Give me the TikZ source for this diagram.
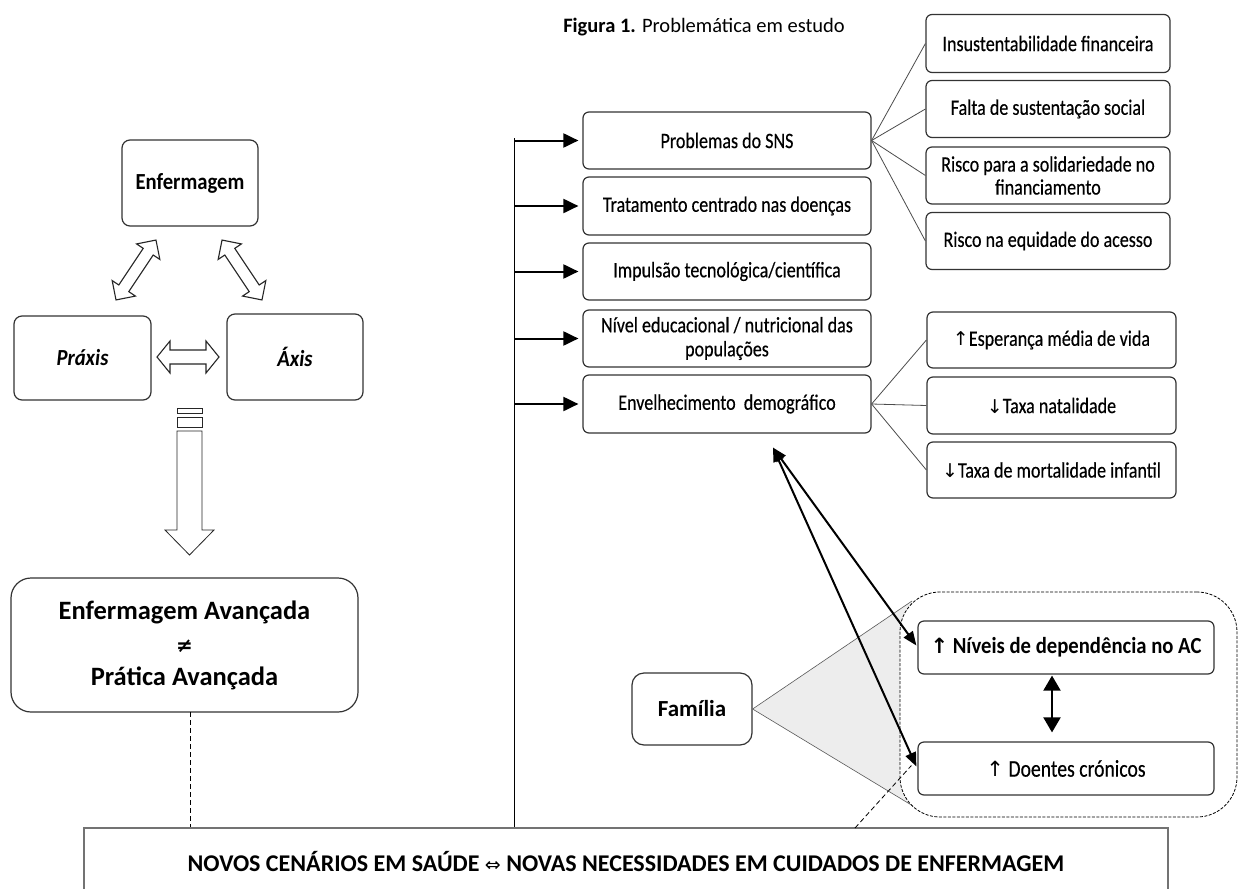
\documentclass[tikz,border=0pt]{standalone}
\usepackage{fontspec}
\setmainfont{Carlito}
\newfontfamily\cf[FakeStretch=0.9]{Carlito}
\newfontfamily\cn[FakeStretch=0.82,FakeBold=0.4]{Carlito}
\newfontfamily\symf{DejaVu Sans}
\usetikzlibrary{arrows.meta,calc}
\begin{document}
\begin{tikzpicture}[x=1pt,y=-1pt,
  box/.style={draw=black!80, line width=1.2pt, rounded corners=6pt, fill=white, inner sep=0pt, align=center},
  btxt/.style={font=\cn\fontsize{22}{24}\selectfont},
  bigb/.style={font=\cf\bfseries\fontsize{23}{26}\selectfont},
  outl/.style={draw=black!85, line width=1.1pt, fill=white, line join=miter},
  thin/.style={draw=black!70, line width=0.8pt},
  feed/.style={line width=2pt, -{Triangle[length=15pt,width=14pt]}},
  dbl/.style={line width=2pt, {Triangle[length=14pt,width=11pt]}-{Triangle[length=14pt,width=11pt]}},
  vdbl/.style={line width=2pt, {Triangle[length=15pt,width=17pt]}-{Triangle[length=15pt,width=17pt]}}
]
\useasboundingbox (0,0) rectangle (1240,889);
\fill[white] (0,0) rectangle (1240,889);

% title
\node[font=\fontsize{20.5}{24}\selectfont, inner sep=0pt] (title) at (704,27) {\textbf{Figura 1.} Problemática em estudo};

% ---- left part
\node[box, rounded corners=8pt, minimum width=136pt, minimum height=86pt, bigb] (enf) at (190,183) {Enfermagem};
\node[box, rounded corners=8pt, minimum width=137pt, minimum height=84pt, font=\cf\bfseries\itshape\fontsize{23}{26}\selectfont] (praxis) at (82.5,358) {Práxis};
\node[box, rounded corners=8pt, minimum width=136pt, minimum height=86pt, font=\cf\bfseries\itshape\fontsize{23}{26}\selectfont] (axis) at (295,357) {Áxis};

% outlined double arrows
\begin{scope}[shift={(136,270)}, rotate=56.3]
  \draw[outl] (-36,0) -- (-22,-14) -- (-22,-6) -- (22,-6) -- (22,-14) -- (36,0) -- (22,14) -- (22,6) -- (-22,6) -- (-22,14) -- cycle;
\end{scope}
\begin{scope}[shift={(242,270)}, rotate=-56.3]
  \draw[outl] (-36,0) -- (-22,-14) -- (-22,-6) -- (22,-6) -- (22,-14) -- (36,0) -- (22,14) -- (22,6) -- (-22,6) -- (-22,14) -- cycle;
\end{scope}
\begin{scope}[shift={(188,357)}]
  \draw[outl] (-31,0) -- (-18,-16) -- (-18,-7) -- (18,-7) -- (18,-16) -- (31,0) -- (18,16) -- (18,7) -- (-18,7) -- (-18,16) -- cycle;
\end{scope}

% striped down arrow
\draw[black!85, line width=0.8pt, fill=white] (177,408) rectangle (202,413);
\draw[black!85, line width=0.8pt, fill=white] (177,417) rectangle (202,427);
\draw[black!85, line width=0.8pt, fill=white, line join=miter] (177,431) -- (202,431) -- (202,530) -- (214,530) -- (189.5,555) -- (165,530) -- (177,530) -- cycle;

\node[box, rounded corners=20pt, minimum width=347pt, minimum height=134pt, font=\bfseries\fontsize{26.5}{33}\selectfont] (enfav) at (184.5,645) {Enfermagem Avançada\\{\symf\fontsize{20}{20}\selectfont ≠}\\Prática Avançada};

% bottom box
\node[draw=black!55, line width=1.3pt, minimum width=1084pt, minimum height=120pt, inner sep=0pt] (bot) at (626,888) {};
\node[font=\bfseries\fontsize{24}{28}\selectfont, inner sep=0pt] (bottxt) at (626,861) {NOVOS CENÁRIOS EM SAÚDE {\symf\mdseries\fontsize{19}{20}\selectfont ⇔} NOVAS NECESSIDADES EM CUIDADOS DE ENFERMAGEM};

\coordinate (dtop) at (190,712);
\draw[dashed, line width=0.8pt, dash pattern=on 5pt off 3pt] (dtop) -- (dtop |- bot.north);

% ---- middle column
\node[box, minimum width=288pt, minimum height=57pt, btxt] (prob) at (727,140.5) {Problemas do SNS};
\node[box, minimum width=288pt, minimum height=58pt, btxt] (trat) at (727,206) {Tratamento centrado nas doenças};
\node[box, minimum width=288pt, minimum height=57pt, btxt] (imp) at (727,271.5) {Impulsão tecnológica/científica};
\node[box, minimum width=288pt, minimum height=57pt, btxt] (niv) at (727,338.5) {Nível educacional / nutricional das\\populações};
\node[box, minimum width=288pt, minimum height=58pt, btxt] (env) at (727,404) {Envelhecimento\ \ demográfico};

% trunk
\coordinate (trunktop) at (514,138);
\draw[line width=1pt] (trunktop) -- (trunktop |- bot.north);
\foreach \n in {prob,trat,imp,niv,env}{
  \draw[feed] (trunktop |- \n.west) -- ($(\n.west)+(-4,0)$);
}

% ---- right column (SNS problems)
\node[box, minimum width=244pt, minimum height=58pt, btxt] (ins) at (1048,43.5) {Insustentabilidade financeira};
\node[box, minimum width=244pt, minimum height=57pt, btxt] (fal) at (1048,109) {Falta de sustentação social};
\node[box, minimum width=244pt, minimum height=57pt, btxt, font=\cn\fontsize{22}{23}\selectfont] (ris) at (1048,175.5) {Risco para a solidariedade no\\financiamento};
\node[box, minimum width=244pt, minimum height=57pt, btxt] (eq) at (1048,241) {Risco na equidade do acesso};
\foreach \n in {ins,fal,ris,eq}{
  \draw[thin] (prob.east) -- (\n.west);
}

% ---- right column (ageing)
\node[box, minimum width=249pt, minimum height=56pt, btxt] (esp) at (1051.5,340) {{\symf\fontsize{19}{20}\selectfont ↑}Esperança média de vida};
\node[box, minimum width=249pt, minimum height=57pt, btxt] (nat) at (1051.5,405.5) {{\symf\fontsize{19}{20}\selectfont ↓}Taxa natalidade};
\node[box, minimum width=249pt, minimum height=56pt, btxt] (mor) at (1051.5,470) {{\symf\fontsize{19}{20}\selectfont ↓}Taxa de mortalidade infantil};
\foreach \n in {esp,nat,mor}{
  \draw[thin] (env.east) -- (\n.west);
}

% ---- família / dependency
\node[box, rounded corners=12pt, minimum width=120pt, minimum height=72pt, font=\bfseries\fontsize{23}{26}\selectfont] (fam) at (692,709) {Família};
\coordinate (ttop) at (912,601);
\coordinate (tbot) at (913,806);
\fill[black!7] (fam.east) -- (ttop) -- (tbot) -- cycle;
\draw[black!65, line width=0.6pt] (ttop) -- (fam.east) -- (tbot);

\node[draw=black, fill=white, dashed, dash pattern=on 3pt off 1.5pt, line width=0.8pt, rounded corners=40pt, minimum width=337pt, minimum height=225pt, inner sep=0pt] (cont) at (1068.5,704.5) {};

\node[box, minimum width=296pt, minimum height=53pt, bigb] (niv2) at (1066,647.5) {{\symf\fontsize{21}{22}\selectfont ↑} Níveis de dependência no AC};
\node[box, minimum width=296pt, minimum height=53pt, font=\cn\fontsize{24}{26}\selectfont] (doe) at (1066,768.5) {{\symf\fontsize{21}{22}\selectfont ↑} Doentes crónicos};

\draw[vdbl] ($(niv2.south)+(-14,1)$) -- ($(doe.north)+(-14,-9)$);

\coordinate (envtip) at ($(env.south)+(46,14)$);
\draw[dbl] (envtip) -- ($(niv2.west)+(-1,-2)$);
\draw[dbl] (envtip) -- ($(doe.west)+(-1,-2)$);

\coordinate (dstart) at (855,828);
\draw[dashed, line width=0.8pt, dash pattern=on 5pt off 3pt] (dstart) -- ($(doe.west)+(-6,-3)$);
\end{tikzpicture}
\end{document}
